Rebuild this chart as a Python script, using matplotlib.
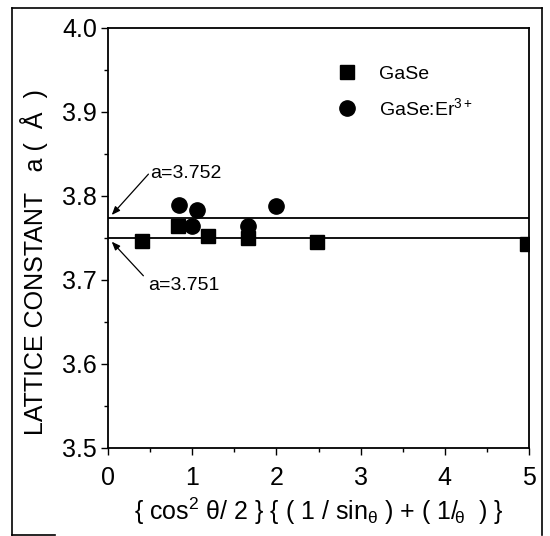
import numpy as np
import matplotlib.pyplot as plt
from matplotlib.lines import Line2D

plt.rcParams['font.family'] = ['Liberation Sans', 'DejaVu Sans']
plt.rcParams['mathtext.fontset'] = 'custom'
plt.rcParams['mathtext.rm'] = 'Liberation Sans'
plt.rcParams['mathtext.it'] = 'Liberation Sans'

# data
gase_x = [0.40, 0.835, 1.19, 1.667, 2.48, 4.97]
gase_y = [3.746, 3.764, 3.752, 3.750, 3.745, 3.743]
er_x = [0.847, 0.994, 1.053, 1.667, 2.00]
er_y = [3.789, 3.764, 3.783, 3.764, 3.788]
fit_er = 3.774
fit_gase = 3.7496

fig = plt.figure(figsize=(5.5, 5.36), dpi=100)
ax = fig.add_axes([0.1964, 0.1642, 0.7655, 0.7836])

ax.plot([0, 5], [fit_er, fit_er], color='black', lw=1.3)
ax.plot([0, 5], [fit_gase, fit_gase], color='black', lw=1.3)
ax.plot(gase_x, gase_y, 's', color='black', ms=10, label='GaSe', zorder=3)
ax.plot(er_x, er_y, 'o', color='black', ms=11, label='GaSe:Er$^{3+}$', zorder=3)

arrow = dict(arrowstyle='-|>,head_length=0.5,head_width=0.2', color='black', lw=0.9,
             shrinkA=0, shrinkB=0)
ax.annotate('', xy=(0.044, 3.7774), xytext=(0.48, 3.826), arrowprops=arrow)
ax.annotate('', xy=(0.044, 3.7456), xytext=(0.42, 3.705), arrowprops=arrow)
ax.text(0.50, 3.827, 'a=3.752', fontsize=14, ha='left', va='center')
ax.text(0.475, 3.694, 'a=3.751', fontsize=14, ha='left', va='center')

ax.set_xlim(0, 5)
ax.set_ylim(3.5, 4.0)
ax.set_xticks([0, 1, 2, 3, 4, 5])
ax.set_xticks(np.arange(0.5, 5, 1), minor=True)
ax.set_yticks([3.5, 3.6, 3.7, 3.8, 3.9, 4.0])
ax.set_yticks(np.arange(3.55, 4.0, 0.1), minor=True)
ax.set_yticklabels(['3.5', '3.6', '3.7', '3.8', '3.9', '4.0'])
ax.tick_params(which='major', direction='out', length=5, width=1, labelsize=18, pad=3)
ax.tick_params(which='minor', direction='out', length=3, width=1)
ax.tick_params(axis='x', which='major', pad=8)
for s in ax.spines.values():
    s.set_linewidth(1.3)

ax.set_ylabel('LATTICE CONSTANT   a (  Å  )', fontsize=18)
ax.yaxis.set_label_coords(-0.143, 0.443)
ax.set_xlabel(r'{ cos$^2$ θ/ 2 } { ( 1 / sin$_{\mathrm{θ}}$ ) + ( 1/$\!_{\mathrm{θ}}$  ) }',
              fontsize=18, labelpad=4)

ax.legend(loc='upper left', bbox_to_anchor=(0.51, 0.935), frameon=False, fontsize=14,
          handletextpad=0.9, labelspacing=0.75, borderpad=0, handlelength=1.5)

# outer frame of the scanned figure
fl = dict(color='black', lw=1.2, transform=fig.transFigure)
fig.add_artist(Line2D([12 / 550, 12 / 550], [1 - 8 / 536, 1 - 535 / 536], **fl))
fig.add_artist(Line2D([12 / 550, 542 / 550], [1 - 8 / 536, 1 - 8 / 536], **fl))
fig.add_artist(Line2D([542 / 550, 542 / 550], [1 - 8 / 536, 1 - 535 / 536], **fl))
fig.add_artist(Line2D([12 / 550, 55 / 550], [1 - 535 / 536, 1 - 535 / 536], **fl))

fig.savefig('out.png', dpi=100)
